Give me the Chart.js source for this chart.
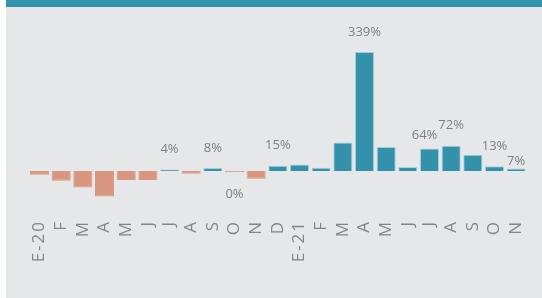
<!DOCTYPE html>
<html>
<head>
<meta charset="utf-8">
<script src="https://cdn.jsdelivr.net/npm/chart.js@4"></script>
<style>
  html, body { margin: 0; padding: 0; background: #ffffff; }
  #panel {
    position: absolute; left: 6px; top: 0; width: 536px; height: 291px;
    background: #e6e7e9; border-top: 7px solid #3592ad;
  }
  #chart { display: block; }
</style>
</head>
<body>
<div id="panel"><canvas id="chart" width="536" height="291"></canvas></div>
<script>
const months = ["E-20", "F", "M", "A", "M", "J", "J", "A", "S", "O", "N", "D",
                "E-21", "F", "M", "A", "M", "J", "J", "A", "S", "O", "N"];
const change = [-11, -28, -47, -73, -26, -26, 4, -8, 8, -0.4, -22, 15,
                18, 9, 81, 339, 68, 11, 64, 72, 46, 13, 7];
const labelled = [6, 8, 9, 11, 15, 18, 19, 21, 22];

const TEAL = "#3391aa";
const SALMON = "#d9967e";

// small nudges so labels don't crowd each other, like in the original
const labelNudge = { 18: { dx: -5, dy: 7 }, 22: { dx: 0, dy: 13 } };

const valueLabels = {
  id: "valueLabels",
  beforeDraw(chart) {
    chart.ctx.letterSpacing = "2px";   // wide tracking on the month letters
  },
  afterDatasetsDraw(chart) {
    const ctx = chart.ctx;
    const meta = chart.getDatasetMeta(0);
    const zero = chart.scales.y.getPixelForValue(0);
    ctx.save();
    ctx.letterSpacing = "0px";
    ctx.font = "13px 'Open Sans'";
    ctx.fillStyle = "#7f7f7f";
    ctx.textAlign = "center";
    ctx.textBaseline = "middle";
    labelled.forEach(i => {
      const bar = meta.data[i];
      const v = change[i];
      const n = labelNudge[i] || { dx: 0, dy: 0 };
      const y = v >= 0 ? Math.min(bar.y, zero) - 20 : zero + 23;
      const r = Math.round(v);
      ctx.fillText((r === 0 ? 0 : r) + "%", bar.x + n.dx, y + n.dy);
    });
    ctx.restore();
  }
};

new Chart(document.getElementById("chart"), {
  type: "bar",
  data: {
    labels: months,
    datasets: [{
      data: change,
      backgroundColor: change.map(v => v >= 0 ? TEAL : SALMON),
      borderColor: change.map(v => v >= 0 ? "#a3cfdc" : SALMON),
      borderWidth: 1,
      minBarLength: 1,
      categoryPercentage: 1,
      barPercentage: 0.88
    }]
  },
  options: {
    responsive: false,
    animation: false,
    layout: { padding: { left: 22.7, right: 15, top: 23.6, bottom: 0 } },
    plugins: { legend: { display: false }, tooltip: { enabled: false } },
    scales: {
      x: {
        grid: { display: false, drawTicks: false },
        border: { display: false },
        ticks: {
          autoSkip: false,
          minRotation: 90,
          maxRotation: 90,
          padding: 14,
          color: "#858585",
          font: { family: "'Open Sans'", size: 17 }
        },
        afterFit(scale) {
          scale.height = 92;
          scale.paddingLeft = 0;
          scale.paddingRight = 0;
        }
      },
      y: {
        display: false,
        min: -100,
        max: 400
      }
    }
  },
  plugins: [valueLabels]
});
</script>
</body>
</html>
